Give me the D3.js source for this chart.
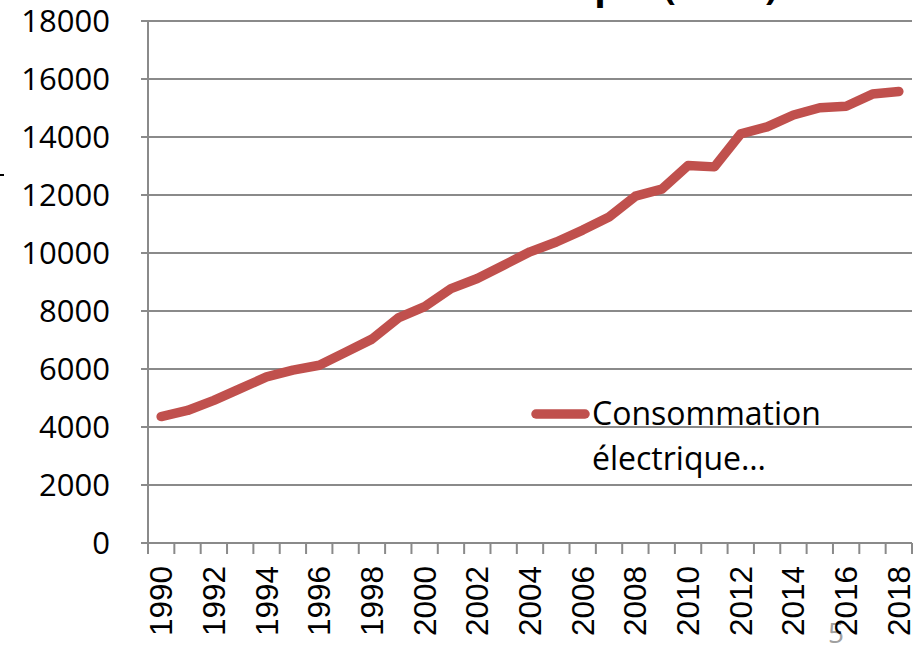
<!DOCTYPE html>
<html>
<head>
<meta charset="utf-8">
<script src="https://cdn.jsdelivr.net/npm/d3@7"></script>
<style>
  html, body { margin: 0; padding: 0; background: #fff; overflow: hidden; }
  svg { display: block; }
</style>
</head>
<body>
<svg id="chart" width="922" height="656"></svg>
<script>
const years = d3.range(1990, 2019).map(String);
const consumption = [4360, 4570, 4920, 5320, 5730, 5960, 6130, 6580, 7030, 7760,
                     8150, 8770, 9120, 9580, 10040, 10380, 10790, 11240, 11960, 12200,
                     13020, 12970, 14110, 14350, 14760, 15010, 15060, 15480, 15570];
const yTicks = [0, 2000, 4000, 6000, 8000, 10000, 12000, 14000, 16000, 18000];
const xTickLabels = years.filter((d, i) => i % 2 === 0);
const seriesName = ["Consommation", "électrique…"];
const titleText = "Consommation électrique (GWh)";

const svg = d3.select("#chart");
const pLeft = 148, pRight = 912, pTop = 21, pBottom = 543;

const x = d3.scaleBand().domain(years).range([pLeft, pRight]).padding(0);
const y = d3.scaleLinear().domain([0, 18000]).range([pBottom, pTop]);

// partially visible title (cut off at the top edge, only descenders show)
svg.append("text")
  .attr("x", 778).attr("y", -1)
  .attr("text-anchor", "end")
  .attr("font-family", "'Open Sans', sans-serif")
  .attr("font-weight", "bold")
  .attr("font-size", 38)
  .attr("fill", "#000")
  .text(titleText);

// gridlines + y ticks
svg.append("g").selectAll("line").data(yTicks.filter(d => d > 0)).join("line")
  .attr("x1", pLeft - 7).attr("x2", pRight)
  .attr("y1", d => y(d)).attr("y2", d => y(d))
  .attr("stroke", "#8a8a8a").attr("stroke-width", 2);

// y axis line
svg.append("line")
  .attr("x1", pLeft).attr("x2", pLeft).attr("y1", pTop).attr("y2", pBottom)
  .attr("stroke", "#8a8a8a").attr("stroke-width", 2);

// x axis with ticks at band boundaries
const xAxis = svg.append("g").attr("transform", `translate(0,${pBottom})`);
xAxis.append("line")
  .attr("x1", pLeft - 7).attr("x2", pRight).attr("y1", 0).attr("y2", 0)
  .attr("stroke", "#8a8a8a").attr("stroke-width", 2);
const boundaries = years.map(d => x(d)).concat([pRight]);
xAxis.selectAll("line.tick").data(boundaries).join("line")
  .attr("class", "tick")
  .attr("x1", d => d).attr("x2", d => d).attr("y1", 0).attr("y2", 11)
  .attr("stroke", "#8a8a8a").attr("stroke-width", 2);

// page number (gray, behind labels)
svg.append("text")
  .attr("x", 836).attr("y", 643)
  .attr("text-anchor", "middle")
  .attr("font-family", "'Open Sans', sans-serif")
  .attr("font-size", 28)
  .attr("fill", "#a0a0a0")
  .text("5");

// x labels
svg.append("g").selectAll("text").data(xTickLabels).join("text")
  .attr("transform", d => `translate(${x(d) + x.bandwidth() / 2 + 11},566) rotate(-90)`)
  .attr("text-anchor", "end")
  .attr("font-family", "'Liberation Sans', Arial, sans-serif")
  .attr("font-size", 31.5)
  .attr("fill", "#000")
  .text(d => d);

// y labels
svg.append("g").selectAll("text").data(yTicks).join("text")
  .attr("x", 110).attr("y", d => y(d) + 11)
  .attr("text-anchor", "end")
  .attr("font-family", "'Open Sans', sans-serif")
  .attr("font-size", 31)
  .attr("fill", "#000")
  .text(d => d);

// line
const line = d3.line()
  .x((d, i) => x(years[i]) + x.bandwidth() / 2)
  .y(d => y(d));
svg.append("path")
  .datum(consumption)
  .attr("d", line)
  .attr("fill", "none")
  .attr("stroke", "#C0504D")
  .attr("stroke-width", 9.5)
  .attr("stroke-linejoin", "round")
  .attr("stroke-linecap", "round");

// legend
const lg = svg.append("g");
lg.append("line")
  .attr("x1", 536).attr("x2", 585).attr("y1", 414).attr("y2", 414)
  .attr("stroke", "#C0504D").attr("stroke-width", 9.5).attr("stroke-linecap", "round");
lg.selectAll("text").data(seriesName).join("text")
  .attr("x", 592).attr("y", (d, i) => 425 + i * 45)
  .attr("font-family", "'Open Sans', sans-serif")
  .attr("font-size", 32)
  .attr("fill", "#000")
  .text(d => d);

// small fragment at far left (cut-off axis title)
svg.append("line")
  .attr("x1", 0).attr("x2", 4).attr("y1", 175).attr("y2", 175)
  .attr("stroke", "#000").attr("stroke-width", 2);
</script>
</body>
</html>
